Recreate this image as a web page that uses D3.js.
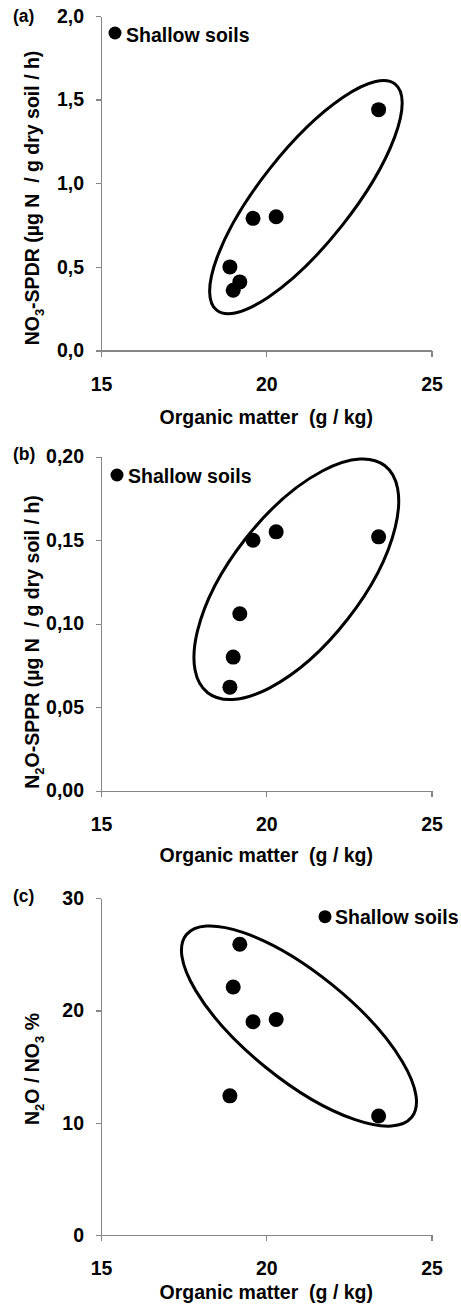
<!DOCTYPE html>
<html>
<head>
<meta charset="utf-8">
<script src="https://cdn.jsdelivr.net/npm/d3@7"></script>
<style>
  body { margin: 0; background: #fff; }
  svg text { font-family: "Liberation Sans", Arial, sans-serif; font-weight: bold; fill: #000; }
</style>
</head>
<body>
<div id="chart"></div>
<script>
/* =====================================================
   DATA
===================================================== */
const organicMatter = [18.9, 19.0, 19.2, 19.6, 20.3, 23.4];
const no3Spdr = [0.50, 0.36, 0.41, 0.79, 0.80, 1.44];
const n2oSppr = [0.062, 0.080, 0.106, 0.150, 0.155, 0.152];
const n2oNo3Pct = [12.4, 22.1, 25.9, 19.0, 19.2, 10.6];

const xTicks = [15, 20, 25];
const yTicksA = [0, 0.5, 1.0, 1.5, 2.0];
const yTicksB = [0, 0.05, 0.10, 0.15, 0.20];
const yTicksC = [0, 10, 20, 30];

const panelLabels = ['(a)', '(b)', '(c)'];
const legendLabel = 'Shallow soils';
const xTitle = 'Organic matter  (g / kg)';

/* =====================================================
   LAYOUT
===================================================== */
const WIDTH = 461;
const HEIGHT = 1314;
const X_RANGE = [101, 431.5];
const AXIS_COLOR = '#868686';
const FONT = 19.5;

const panels = [
  {
    label: panelLabels[0], labelY: 22,
    top: 16, bottom: 350.5,
    values: no3Spdr, yTicks: yTicksA, yFormat: '.1f',
    yTitle: [['NO'], ['3', true], ['-SPDR (µg N  / g dry soil / h)']], yTitleY: 198,
    xTickBase: 40, xTitleBase: 73,
    legend: { dotX: 115, dotY: 33, textX: 126, textY: 41.5 },
    ellipse: { cx: 21.2, cy: 0.917, rx: 144, ry: 46, angle: -51.7 },
  },
  {
    label: panelLabels[1], labelY: 460,
    top: 456.7, bottom: 790.7,
    values: n2oSppr, yTicks: yTicksB, yFormat: '.2f',
    yTitle: [['N'], ['2', true], ['O-SPPR (µg N  / g dry soil / h)']], yTitleY: 642,
    xTickBase: 40, xTitleBase: 71.5,
    legend: { dotX: 117, dotY: 475, textX: 128, textY: 483 },
    ellipse: { cx: 20.91, cy: 0.1266, rx: 144, ry: 65, angle: -52 },
  },
  {
    label: panelLabels[2], labelY: 902,
    top: 898.3, bottom: 1235,
    values: n2oNo3Pct, yTicks: yTicksC, yFormat: 'd',
    yTitle: [['N'], ['2', true], ['O / NO'], ['3', true], [' %']], yTitleY: 1069,
    xTickBase: 40, xTitleBase: 64,
    legend: { dotX: 325, dotY: 916.7, textX: 335, textY: 924 },
    ellipse: { cx: 20.99, cy: 18.62, rx: 145, ry: 53, angle: 39 },
  },
];

/* =====================================================
   SVG
===================================================== */
const svg = d3
  .select('#chart')
  .append('svg')
  .attr('width', WIDTH)
  .attr('height', HEIGHT);

const xScale = d3
  .scaleLinear()
  .domain([d3.min(xTicks), d3.max(xTicks)])
  .range(X_RANGE);

/* =====================================================
   DRAW PANEL
===================================================== */
function drawPanel(p) {
  const g = svg.append('g');

  const yScale = d3
    .scaleLinear()
    .domain([d3.min(p.yTicks), d3.max(p.yTicks)])
    .range([p.bottom, p.top]);

  const fmt = d3.format(p.yFormat);

  // ---- axes ----
  const yAxis = d3
    .axisLeft(yScale)
    .tickValues(p.yTicks)
    .tickSize(5)
    .tickSizeOuter(0)
    .tickPadding(12)
    .tickFormat((d) => fmt(d).replace('.', ','));

  const xAxis = d3
    .axisBottom(xScale)
    .tickValues(xTicks)
    .tickSize(6)
    .tickSizeOuter(0)
    .tickPadding(p.xTickBase - 6 - 0.71 * FONT);

  const yG = g
    .append('g')
    .attr('transform', `translate(${X_RANGE[0]},0)`)
    .call(yAxis);

  const xG = g
    .append('g')
    .attr('transform', `translate(0,${p.bottom})`)
    .call(xAxis);

  [yG, xG].forEach((ax) => {
    ax.selectAll('path, line')
      .attr('stroke', AXIS_COLOR)
      .attr('stroke-width', 1.3)
      .attr('shape-rendering', 'crispEdges');
    ax.selectAll('text')
      .attr('fill', '#000')
      .style('font-size', FONT + 'px')
      .style('font-family', '"Liberation Sans", Arial, sans-serif')
      .style('font-weight', 'bold');
  });

  // ---- ellipse ----
  const e = p.ellipse;
  const ecx = xScale(e.cx);
  const ecy = yScale(e.cy);
  g.append('ellipse')
    .attr('cx', ecx)
    .attr('cy', ecy)
    .attr('rx', e.rx)
    .attr('ry', e.ry)
    .attr('transform', `rotate(${e.angle},${ecx},${ecy})`)
    .attr('fill', 'none')
    .attr('stroke', '#000')
    .attr('stroke-width', 3);

  // ---- points ----
  g.selectAll('.pt')
    .data(organicMatter.map((om, i) => ({ x: om, y: p.values[i] })))
    .enter()
    .append('circle')
    .attr('class', 'pt')
    .attr('cx', (d) => xScale(d.x))
    .attr('cy', (d) => yScale(d.y))
    .attr('r', 7.5)
    .attr('fill', '#000');

  // ---- legend ----
  g.append('circle')
    .attr('cx', p.legend.dotX)
    .attr('cy', p.legend.dotY)
    .attr('r', 6.5)
    .attr('fill', '#000');
  g.append('text')
    .attr('x', p.legend.textX)
    .attr('y', p.legend.textY)
    .style('font-size', FONT + 'px')
    .text(legendLabel);

  // ---- panel label ----
  g.append('text')
    .attr('x', 13)
    .attr('y', p.labelY)
    .style('font-size', '17.5px')
    .text(p.label);

  // ---- x title ----
  g.append('text')
    .attr('x', (X_RANGE[0] + X_RANGE[1]) / 2)
    .attr('y', p.bottom + p.xTitleBase)
    .attr('text-anchor', 'middle')
    .style('font-size', FONT + 'px')
    .style('white-space', 'pre')
    .text(xTitle);

  // ---- y title ----
  const yt = g
    .append('text')
    .attr('transform', `translate(39,${p.yTitleY}) rotate(-90)`)
    .attr('text-anchor', 'middle')
    .style('font-size', FONT + 'px')
    .style('white-space', 'pre');

  let shifted = false;
  p.yTitle.forEach(([txt, sub]) => {
    const ts = yt.append('tspan').text(txt);
    if (sub) {
      ts.style('font-size', '13px').attr('dy', 5);
      shifted = true;
    } else if (shifted) {
      ts.attr('dy', -5);
      shifted = false;
    }
  });
}

panels.forEach(drawPanel);
</script>
</body>
</html>
